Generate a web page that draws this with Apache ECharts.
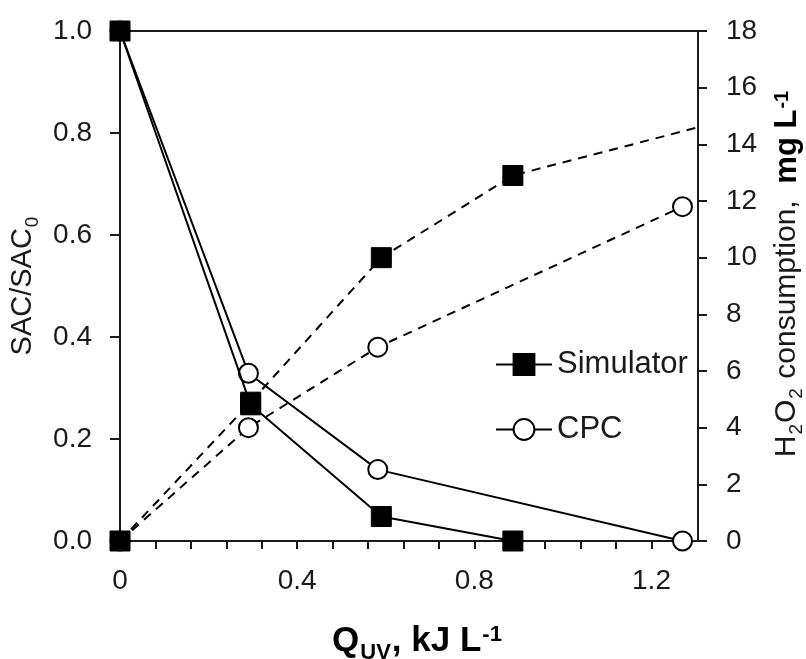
<!DOCTYPE html>
<html>
<head>
<meta charset="utf-8">
<script src="https://cdn.jsdelivr.net/npm/echarts@6/dist/echarts.min.js"></script>
<style>
  html, body { margin: 0; padding: 0; background: #fff; }
  #main { width: 806px; height: 659px; }
</style>
</head>
<body>
<div id="main"></div>
<script>
// Q_UV (kJ/L) for each run
var simX = [0, 0.295, 0.59, 0.887];
var cpcX = [0, 0.29, 0.582, 1.27];
// SAC/SAC0
var simSac = [1.0, 0.267, 0.048, 0.0];
var cpcSac = [1.0, 0.329, 0.14, 0.0];
// H2O2 consumption (mg/L); last simulator value is where the dashed line meets the right axis
var simH2o2X = [0, 0.295, 0.59, 0.887, 1.305];
var simH2o2 = [0, 4.9, 10.0, 12.9, 14.6];
var cpcH2o2 = [0, 4.0, 6.84, 11.8];

var xTicks = [0, 0.4, 0.8, 1.2];

function pairs(xs, ys) {
    return xs.map(function (x, i) { return [x, ys[i]]; });
}

var font = 'Liberation Sans, Arial, Helvetica, sans-serif';
var ink = '#1a1a1a';

var myChart = echarts.init(document.getElementById('main'));

var squareSym = { symbol: 'rect', symbolSize: 20, itemStyle: { color: '#000', borderColor: '#000', borderWidth: 1 } };
var circleSym = { symbol: 'circle', symbolSize: 19, itemStyle: { color: '#fff', borderColor: '#000', borderWidth: 2 } };

var simH2o2Data = pairs(simH2o2X, simH2o2).map(function (p, i) {
    return i === simH2o2X.length - 1 ? { value: p, symbol: 'none' } : p;
});

var option = {
    animation: false,
    backgroundColor: '#fff',
    textStyle: { fontFamily: font },
    grid: {
        left: 120, right: 108, top: 31, bottom: 118,
        containLabel: false,
        outerBoundsMode: 'none',
        show: true, borderColor: ink, borderWidth: 2, backgroundColor: 'transparent'
    },
    legend: {
        orient: 'vertical',
        left: 490, top: 344,
        itemWidth: 56, itemHeight: 26, itemGap: 34,
        data: ['Simulator', 'CPC'],
        textStyle: { fontFamily: font, fontSize: 31, color: ink }
    },
    xAxis: {
        type: 'value',
        min: 0, max: 1.305, interval: 0.08,
        name: '{q|Q}{qs|UV}{q|, kJ L}{qp|-1}',
        nameLocation: 'middle',
        nameGap: 83,
        nameTextStyle: {
            padding: [0, 0, 0, 16],
            rich: {
                q: { fontFamily: font, fontWeight: 'bold', fontSize: 35, color: '#000', verticalAlign: 'top', lineHeight: 35 },
                qs: { fontFamily: font, fontWeight: 'bold', fontSize: 22, color: '#000', verticalAlign: 'top', lineHeight: 22, padding: [18, 1, 0, 1] },
                qp: { fontFamily: font, fontWeight: 'bold', fontSize: 22, color: '#000', verticalAlign: 'top', lineHeight: 22, padding: [0, 0, 0, 1] }
            }
        },
        axisLine: { onZero: false, lineStyle: { color: ink, width: 2 } },
        axisTick: { inside: false, length: 8, lineStyle: { color: ink, width: 2 } },
        axisLabel: {
            margin: 26,
            fontSize: 28, color: ink, fontFamily: font,
            showMaxLabel: false,
            formatter: function (v) {
                for (var i = 0; i < xTicks.length; i++) {
                    if (Math.abs(v - xTicks[i]) < 1e-6) return String(xTicks[i]);
                }
                return '';
            }
        },
        splitLine: { show: false }
    },
    yAxis: [
        {
            type: 'value',
            min: 0, max: 1.0, interval: 0.2,
            position: 'left',
            name: '{n|SAC/SAC}{s|0}',
            nameLocation: 'middle',
            nameRotate: 90,
            nameGap: 72,
            nameTextStyle: {
                rich: {
                    n: { fontFamily: font, fontSize: 29, color: ink, verticalAlign: 'top', lineHeight: 29 },
                    s: { fontFamily: font, fontSize: 19, color: ink, verticalAlign: 'top', lineHeight: 19, padding: [15, 0, 0, 1] }
                }
            },
            axisLine: { show: true, lineStyle: { color: ink, width: 2 } },
            axisTick: { show: true, length: 10, lineStyle: { color: ink, width: 2 } },
            axisLabel: {
                margin: 28, fontSize: 28, color: ink, fontFamily: font,
                formatter: function (v) { return v.toFixed(1); }
            },
            splitLine: { show: false }
        },
        {
            type: 'value',
            min: 0, max: 18, interval: 2,
            position: 'right',
            name: '{n|H}{s|2}{n|O}{s|2}{n| consumption,  }{b|mg L}{p|-1}',
            nameLocation: 'middle',
            nameRotate: 90,
            nameGap: 74,
            nameTextStyle: {
                padding: [0, 0, 0, 24],
                rich: {
                    n: { fontFamily: font, fontSize: 30, color: ink, verticalAlign: 'top', lineHeight: 30 },
                    s: { fontFamily: font, fontSize: 19, color: ink, verticalAlign: 'top', lineHeight: 19, padding: [15, 1, 0, 1] },
                    b: { fontFamily: font, fontSize: 31, fontWeight: 'bold', color: '#000', verticalAlign: 'top', lineHeight: 31 },
                    p: { fontFamily: font, fontSize: 20, fontWeight: 'bold', color: '#000', verticalAlign: 'top', lineHeight: 20, padding: [0, 0, 0, 1] }
                }
            },
            axisLine: { show: true, lineStyle: { color: ink, width: 2 } },
            axisTick: { show: true, length: 9, lineStyle: { color: ink, width: 2 } },
            axisLabel: { margin: 28, fontSize: 28, color: ink, fontFamily: font },
            splitLine: { show: false }
        }
    ],
    series: [
        Object.assign({
            name: 'Simulator', type: 'line', yAxisIndex: 0,
            data: pairs(simX, simSac),
            lineStyle: { color: '#000', width: 2 }
        }, squareSym),
        Object.assign({
            name: 'CPC', type: 'line', yAxisIndex: 0,
            data: pairs(cpcX, cpcSac),
            lineStyle: { color: '#000', width: 2 },
            z: 1
        }, circleSym),
        Object.assign({
            name: 'CPC', type: 'line', yAxisIndex: 1,
            data: pairs(cpcX, cpcH2o2),
            lineStyle: { color: '#000', width: 2, type: [9, 7] }
        }, circleSym),
        Object.assign({
            name: 'Simulator', type: 'line', yAxisIndex: 1,
            data: simH2o2Data,
            lineStyle: { color: '#000', width: 2, type: [9, 7] }
        }, squareSym)
    ]
};

myChart.setOption(option);
</script>
</body>
</html>
